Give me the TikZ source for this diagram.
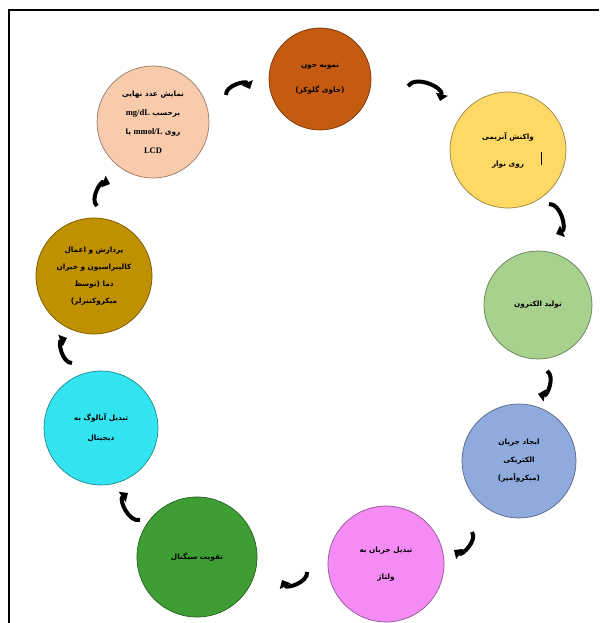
\documentclass[tikz,border=0pt]{standalone}
\usepackage{fontspec}
\usepackage{tikz}
\usetikzlibrary{arrows.meta}
\usetikzlibrary{positioning}
\TeXXeTstate=1
\newfontfamily\farsi[Script=Arabic]{DejaVu Sans}
\newfontfamily\latinserif{Liberation Serif}
\newcommand{\fa}[1]{\beginR #1\endR}
\newcommand{\lt}[1]{\beginL{\latinserif\bfseries\fontsize{8.5}{9}\selectfont #1}\endL{}}
\definecolor{cblood}{RGB}{197, 90, 17}
\definecolor{cenzyme}{RGB}{255, 217, 102}
\definecolor{celectron}{RGB}{169, 209, 142}
\definecolor{ccurrent}{RGB}{143, 170, 220}
\definecolor{cvoltage}{RGB}{245, 140, 245}
\definecolor{camplify}{RGB}{62, 158, 52}
\definecolor{cadc}{RGB}{50, 228, 240}
\definecolor{cprocess}{RGB}{191, 144, 0}
\definecolor{cdisplay}{RGB}{248, 203, 173}
\tikzset{stage/.style = {circle, draw = #1!60!black, fill = #1, line width = 0.7, inner sep = 0, align = center, font = \farsi\bfseries\fontsize{7.3}{9}\selectfont}}
\tikzset{flow/.style = {line width = 4, -{Triangle[length = 7, width = 12]}}}

\begin{document}
\begin{tikzpicture}[x = 1pt, y = -1pt]
      \useasboundingbox (0, 0) rectangle (599, 623);
      \fill [white] (0, 0) rectangle (599, 623);
      \draw [line width = 1.6] (9, 623) -- (9, 10) -- (599, 10);

      \node [stage = cblood, minimum size = 102] (blood) at (320, 79) {\fa{نمونه خون}\\[16pt]\fa{(حاوی گلوکز)}};
      \node [stage = cenzyme, minimum size = 116] (enzyme) at (508, 150) {\fa{واکنش آنزیمی}\\[18pt]\fa{روی نوار}};
      \node [stage = celectron, minimum size = 108] (electron) at (538, 305) {\fa{تولید الکترون}};
      \node [stage = ccurrent, minimum size = 114] (current) at (519, 461) {\fa{ایجاد جریان}\\[9pt]\fa{الکتریکی}\\[9pt]\fa{(میکروآمپر)}};
      \node [stage = cvoltage, minimum size = 116] (voltage) at (386, 564) {\fa{تبدیل جریان به}\\[18pt]\fa{ولتاژ}};
      \node [stage = camplify, minimum size = 120] (amplify) at (197, 557) {\fa{تقویت سیگنال}};
      \node [stage = cadc, minimum size = 114] (adc) at (101, 428) {\fa{تبدیل آنالوگ به}\\[11pt]\fa{دیجیتال}};
      \node [stage = cprocess, minimum size = 116] (process) at (94, 276) {\fa{پردازش و اعمال}\\[8pt]\fa{کالیبراسیون و جبران}\\[8pt]\fa{دما (توسط}\\[8pt]\fa{میکروکنترلر)}};
      \node [stage = cdisplay, minimum size = 112] (display) at (153, 122) {\fa{نمایش عدد نهایی}\\[10pt]\fa{برحسب \lt{mg/dL}}\\[10pt]\fa{روی \lt{mmol/L} یا}\\[10pt]\lt{LCD}};

      \draw [line width = 0.5] ([shift = {(33, 2)}] enzyme.center) -- ++(0, 13);

      % curved arrows round the ring
      \foreach \n/\sx/\sy/\ex/\ey in {12/408/86/440/101, 23/549/204/556/234, 34/547/371/538/394, 45/472/532/454/550, 56/307/572/282/580, 67/140/520/128/493, 78/72/363/67/338, 89/97/206/110/184, 91/226/95/250/89} {
        \coordinate (s\n) at (\sx, \sy);
        \coordinate (e\n) at (\ex, \ey);
        \draw [flow] (s\n) to [bend left = 80] (e\n);
      }
    \end{tikzpicture}
\end{document}
